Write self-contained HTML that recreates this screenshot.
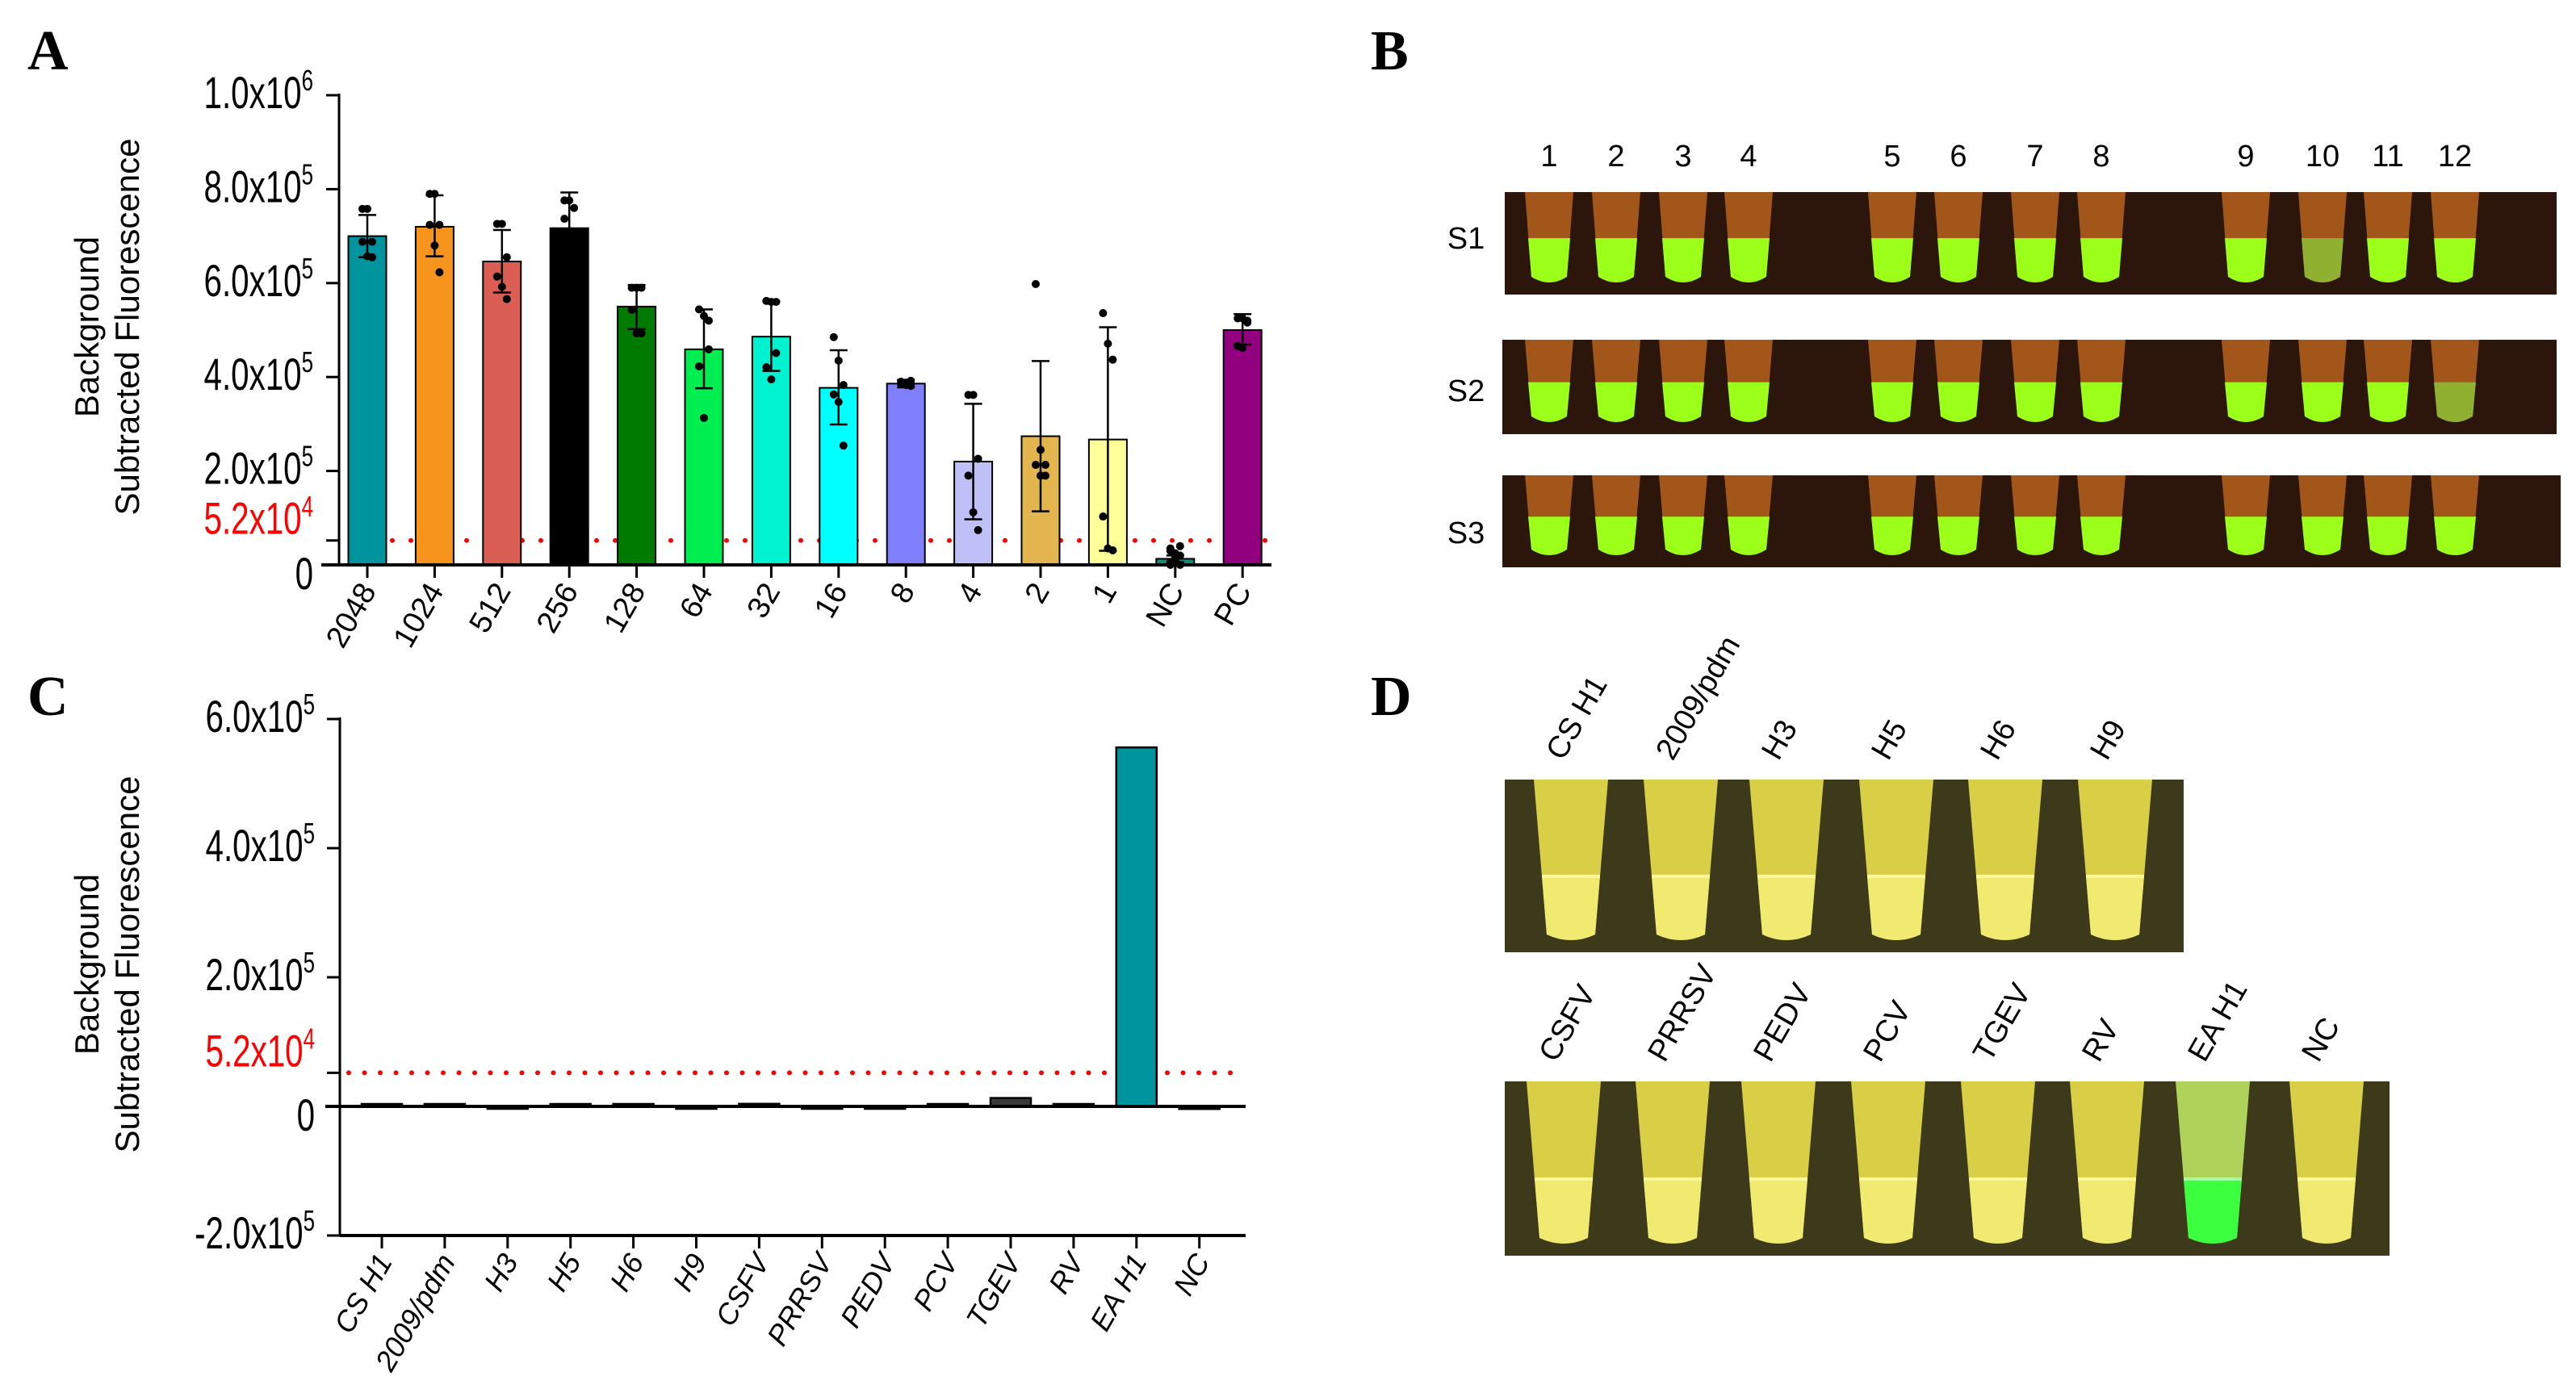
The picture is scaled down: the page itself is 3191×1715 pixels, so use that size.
<!DOCTYPE html>
<html><head><meta charset="utf-8"><style>
html,body{margin:0;padding:0;background:#fff;}
svg{display:block;font-family:"Liberation Sans",sans-serif;}
</style></head><body>
<svg id="fig" width="3191" height="1715" viewBox="0 0 3191 1715" xmlns="http://www.w3.org/2000/svg">
<text x="34" y="86" font-family="Liberation Serif" font-weight="bold" font-size="70">A</text>
<text x="1698" y="86" font-family="Liberation Serif" font-weight="bold" font-size="70">B</text>
<text x="34" y="886" font-family="Liberation Serif" font-weight="bold" font-size="70">C</text>
<text x="1698" y="886" font-family="Liberation Serif" font-weight="bold" font-size="70">D</text>
<g id="gA"></g>
<g id="gC"></g>
<g id="gB"></g>
<g id="gD"></g>
</svg>
<script>
// ---- Panel A data ----
const catsA = ["2048","1024","512","256","128","64","32","16","8","4","2","1","NC","PC"];
const meansA = [0.70,0.72,0.646,0.717,0.55,0.459,0.486,0.377,0.386,0.22,0.274,0.267,0.013,0.50];
const errHiA = [0.745,0.787,0.713,0.793,0.596,0.544,0.561,0.457,0.394,0.343,0.434,0.506,0.02,0.534];
const errLoA = [0.655,0.657,0.58,0.64,0.502,0.376,0.413,0.299,0.378,0.097,0.114,0.03,0.006,0.469];
const ptsA = [
 [0.758,0.758,0.688,0.688,0.657,0.655],
 [0.79,0.79,0.724,0.724,0.68,0.623],
 [0.726,0.726,0.655,0.614,0.592,0.566],
 [0.776,0.776,0.76,0.737,0.70,0.68],
 [0.59,0.59,0.59,0.543,0.493,0.493],
 [0.544,0.53,0.459,0.423,0.313,0.52],
 [0.562,0.56,0.451,0.421,0.395,0.56],
 [0.485,0.435,0.383,0.363,0.347,0.254],
 [0.39,0.388,0.392,0.385,0.383,0.381],
 [0.362,0.362,0.226,0.19,0.112,0.074],
 [0.598,0.245,0.213,0.213,0.19,0.19],
 [0.536,0.471,0.437,0.103,0.035,0.031],
 [0.0,0.01,0.02,0.03,0.015,0.04,0.005,0.025,0.0,0.035],
 [0.525,0.525,0.516,0.466,0.462,0.52]
];
const colorsA = ["#00959E","#F7941D","#DB5E55","#000000","#007A00","#00EE50","#00F2D0","#00FFFF","#8080FF","#C0C0F8","#E3B54F","#FFFF99","#1a8a70","#93007F"];
const ticksA = [0,0.2,0.4,0.6,0.8,1.0];
const tickLabelsA = [["0",""],["2.0x10","5"],["4.0x10","5"],["6.0x10","5"],["8.0x10","5"],["1.0x10","6"]];
const thresholdA = 0.052;
// ---- Panel C data ----
const catsC = ["CS H1","2009/pdm","H3","H5","H6","H9","CSFV","PRRSV","PEDV","PCV","TGEV","RV","EA H1","NC"];
const valsC = [2000,500,-3000,2000,500,-3000,4000,-2000,-3000,1500,13000,3000,556000,-4000];
const ticksC = [-200000,0,200000,400000,600000];
const tickLabelsC = [["-2.0x10","5"],["0",""],["2.0x10","5"],["4.0x10","5"],["6.0x10","5"]];
const thresholdC = 52000;

const NS="http://www.w3.org/2000/svg";
function mk(parent,tag,attrs){const e=document.createElementNS(NS,tag);for(const k in attrs)e.setAttribute(k,attrs[k]);parent.appendChild(e);return e;}

function tickLabel(g,x,y,lab,color){
  const t=mk(g,"text",{transform:`translate(${x},${y}) scale(0.72,1)`,"text-anchor":"end","font-size":"56",fill:color});
  
  
  t.appendChild(document.createTextNode(lab[0]));
  if(lab[1]){const s=mk(t,"tspan",{dy:"-22","font-size":"36"});s.textContent=lab[1];}
}
function yTitle(g,cx,cy){
  const t1=mk(g,"text",{transform:`translate(${cx},${cy}) rotate(-90)`,"text-anchor":"middle","font-size":"42"});
  
  
  mk(t1,"tspan",{x:"0",dy:"0"}).textContent="Background";
  mk(t1,"tspan",{x:"0",dy:"50"}).textContent="Subtracted Fluorescence";
}

// ---- Draw A ----
(function(){
  const g=document.getElementById("gA");
  const y0=700, span=582, ax=420, x0=455, dx=83.4, bw=47;
  const Y=v=>y0-v*span, X=i=>x0+i*dx;
  yTitle(g,122,405);
  const th=mk(g,"line",{x1:440,x2:1575,y1:Y(thresholdA),y2:Y(thresholdA),stroke:"#ff0000","stroke-width":"6","stroke-dasharray":"0 23","stroke-linecap":"round"});
  
  
  catsA.forEach((c,i)=>{
    const b=mk(g,"rect",{x:X(i)-bw/2,y:Y(meansA[i]),width:bw,height:Math.max(0,y0-Y(meansA[i])),fill:colorsA[i],stroke:"#000","stroke-width":"2"});
    
    
    const e=mk(g,"path",{d:`M${X(i)},${Y(errLoA[i])}V${Y(errHiA[i])}M${X(i)-11},${Y(errHiA[i])}H${X(i)+11}M${X(i)-11},${Y(errLoA[i])}H${X(i)+11}`,stroke:"#000","stroke-width":"2.5",fill:"none"});
    
    
    ptsA[i].forEach((p,j)=>{
      const off=((j%3)-1)*6;
      const d=mk(g,"circle",{cx:X(i)+off,cy:Y(p),r:5,fill:"#000"});
      
      
    });
    mk(g,"line",{x1:X(i),x2:X(i),y1:y0,y2:y0+16,stroke:"#000","stroke-width":"3"});
    const t=mk(g,"text",{transform:`translate(${X(i)+12},${y0+32}) rotate(-60)`,"text-anchor":"end","font-size":"38"});
    
    
    t.textContent=c;
  });
  mk(g,"line",{x1:ax,x2:ax,y1:Y(1.0)-2,y2:y0,stroke:"#000","stroke-width":"3"});
  mk(g,"line",{x1:398,x2:1575,y1:y0,y2:y0,stroke:"#000","stroke-width":"4"});
  ticksA.forEach((v,i)=>{
    mk(g,"line",{x1:ax-16,x2:ax,y1:Y(v),y2:Y(v),stroke:"#000","stroke-width":"3"});
    tickLabel(g,388,Y(v)+ (i==0?30:16),tickLabelsA[i],"#000");
  });
  mk(g,"line",{x1:ax-16,x2:ax,y1:Y(thresholdA),y2:Y(thresholdA),stroke:"#000","stroke-width":"3"});
  tickLabel(g,388,Y(thresholdA)-8,["5.2x10","4"],"#ff0000");
})();

// ---- Draw C ----
(function(){
  const g=document.getElementById("gC");
  const y0=1371, k=80/100000, ax=421, x0=473, dx=77.9, bw=50;
  const Y=v=>y0-v*k, X=i=>x0+i*dx;
  yTitle(g,122,1195);
  const th=mk(g,"line",{x1:432,x2:1543,y1:Y(thresholdC),y2:Y(thresholdC),stroke:"#ff0000","stroke-width":"6","stroke-dasharray":"0 19.5","stroke-linecap":"round"});
  
  
  catsC.forEach((c,i)=>{
    const v=valsC[i];
    const h=Math.max(3,Math.abs(Y(v)-y0));
    const b=mk(g,"rect",{x:X(i)-bw/2,y:v>=0?y0-h:y0,width:bw,height:h,fill:c==="EA H1"?"#00959E":"#3a3a3a",stroke:"#000","stroke-width":"2.5"});
    
    
    mk(g,"line",{x1:X(i),x2:X(i),y1:Y(-200000),y2:Y(-200000)+16,stroke:"#000","stroke-width":"3"});
    const t=mk(g,"text",{transform:`translate(${X(i)+14},${Y(-200000)+32}) rotate(-60)`,"text-anchor":"end","font-size":"36","font-style":"italic"});
    
    
    t.textContent=c;
  });
  mk(g,"line",{x1:ax,x2:ax,y1:Y(600000)-2,y2:Y(-200000),stroke:"#000","stroke-width":"3"});
  mk(g,"line",{x1:403,x2:1543,y1:y0,y2:y0,stroke:"#000","stroke-width":"4"});
  mk(g,"line",{x1:ax,x2:1543,y1:Y(-200000),y2:Y(-200000),stroke:"#000","stroke-width":"4"});
  ticksC.forEach((v,i)=>{
    mk(g,"line",{x1:ax-16,x2:ax,y1:Y(v),y2:Y(v),stroke:"#000","stroke-width":"3"});
    tickLabel(g,390,Y(v)+(v===0?30:16),tickLabelsC[i],"#000");
  });
  mk(g,"line",{x1:ax-16,x2:ax,y1:Y(thresholdC),y2:Y(thresholdC),stroke:"#000","stroke-width":"3"});
  tickLabel(g,390,Y(thresholdC)-8,["5.2x10","4"],"#ff0000");
})();

// ---- Panel B photo ----
(function(){
  const g=document.getElementById("gB");
  const numsX=[1919,2002,2085,2166,2344,2426,2521,2603,2782,2877,2958,3041];
  numsX.forEach((x,i)=>{const t=mk(g,"text",{x:x,y:206,"text-anchor":"middle","font-size":"38"});
    t.textContent=String(i+1);});
  const strips=[[1864,238,1303,127,"S1",295],[1861,421,1306,117,"S2",484],[1861,589,1311,114,"S3",660]];
  strips.forEach(s=>{
    const r=mk(g,"rect",{x:s[0],y:s[1],width:s[2],height:s[3],fill:"#2c160c"});
    
    const t=mk(g,"text",{x:1816,y:s[5]+13,"text-anchor":"middle","font-size":"38"});
    t.textContent=s[4];
    numsX.forEach((x,i)=>{
      const top=s[1], bot=s[1]+s[3]-12, mid=top+s[3]*0.45;
      mk(g,"path",{d:`M${x-30},${top}L${x+30},${top}L${x+22},${bot-10}Q${x},${bot+4} ${x-22},${bot-10}Z`,fill:"#b8621c",opacity:"0.85"});
      const green=(s[4]==="S1"&&i===9)||(s[4]==="S2"&&i===11)?"#8fb030":"#9cff1a";
      mk(g,"path",{d:`M${x-26},${mid}L${x+26},${mid}L${x+22},${bot-10}Q${x},${bot+4} ${x-22},${bot-10}Z`,fill:green});
    });
  });
})();

// ---- Panel D photo ----
(function(){
  const g=document.getElementById("gD");
  const topL=["CS H1","2009/pdm","H3","H5","H6","H9"], topX=[1946,2082,2213,2349,2484,2620];
  const botL=["CSFV","PRRSV","PEDV","PCV","TGEV","RV","EA H1","NC"], botX=[1937,2072,2203,2339,2475,2610,2741,2882];
  function row(labels,xs,y,h,w,name){
    const r=mk(g,"rect",{x:1864,y:y,width:w,height:h,fill:"#3d3a1c"});
    
    labels.forEach((l,i)=>{
      const x=xs[i]; const ea=l==="EA H1";
      mk(g,"path",{d:`M${x-46},${y}L${x+46},${y}L${x+30},${y+h-22}Q${x},${y+h-8} ${x-30},${y+h-22}Z`,fill:ea?"#b8e060":"#e6dc4a",opacity:"0.92"});
      mk(g,"path",{d:`M${x-36},${y+h*0.56}L${x+36},${y+h*0.56}L${x+30},${y+h-22}Q${x},${y+h-8} ${x-30},${y+h-22}Z`,fill:ea?"#3cff40":"#f0ea70"});
      mk(g,"line",{x1:x-36,x2:x+36,y1:y+h*0.56,y2:y+h*0.56,stroke:ea?"#a0ffa0":"#fff79a","stroke-width":"4"});
      const t=mk(g,"text",{transform:`translate(${x-10},${y-22}) rotate(-60)`,"font-size":"38"});
      t.textContent=l;
    });
  }
  row(topL,topX,966,214,841,"tube-photo-top");
  row(botL,botX,1340,216,1096,"tube-photo-bottom");
})();
</script>
</body></html>
